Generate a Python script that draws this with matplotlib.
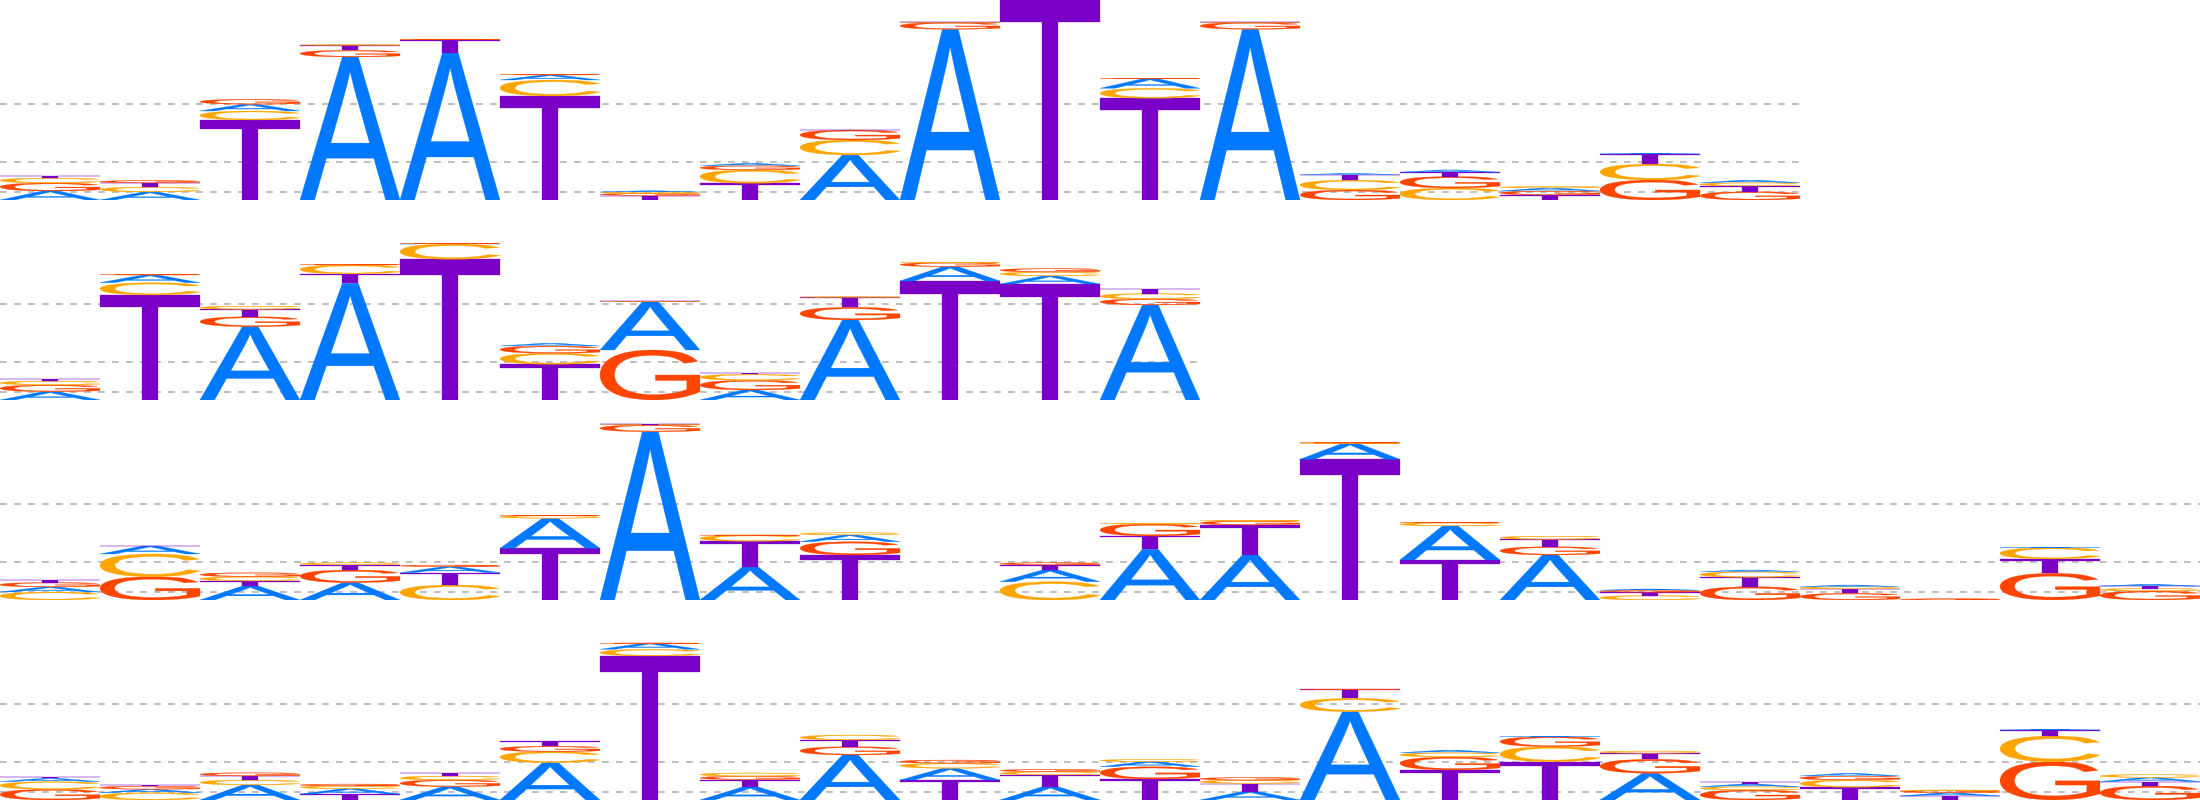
import matplotlib
matplotlib.use("Agg")
import matplotlib.pyplot as plt
from matplotlib.textpath import TextPath
from matplotlib.patches import PathPatch
from matplotlib.font_manager import FontProperties
from matplotlib.transforms import Affine2D

letters = ["A", "C", "G", "T"]
colors = {"A": "#0078ff", "C": "#ffa500", "G": "#ff4500", "T": "#7a00c8"}

# letter heights (bits) per position, one set of lists per logo row
r1_A = [0.09, 0.08, 0.067, 1.43, 1.47, 0.05, 0.012, 0.023, 0.45, 1.707, 0.0, 0.095, 1.707, 0.01, 0.023, 0.03, 0.005, 0.025]
r1_C = [0.05, 0.05, 0.09, 0.005, 0.003, 0.16, 0.015, 0.133, 0.15, 0.003, 0.0, 0.10, 0.003, 0.098, 0.12, 0.015, 0.16, 0.033]
r1_G = [0.08, 0.025, 0.05, 0.067, 0.003, 0.005, 0.02, 0.043, 0.10, 0.067, 0.0, 0.005, 0.067, 0.10, 0.115, 0.04, 0.20, 0.083]
r1_T = [0.025, 0.04, 0.80, 0.05, 0.133, 1.04, 0.045, 0.167, 0.005, 0.003, 2.0, 1.017, 0.003, 0.057, 0.043, 0.05, 0.10, 0.057]

r2_A = [0.083, 0.077, 0.733, 1.167, 0.003, 0.027, 0.483, 0.10, 0.80, 0.143, 0.08, 0.95]
r2_C = [0.04, 0.123, 0.033, 0.09, 0.153, 0.11, 0.003, 0.06, 0.005, 0.005, 0.04, 0.055]
r2_G = [0.067, 0.003, 0.10, 0.003, 0.003, 0.073, 0.50, 0.097, 0.127, 0.04, 0.035, 0.06]
r2_T = [0.02, 1.05, 0.073, 0.093, 1.407, 0.357, 0.003, 0.013, 0.10, 1.19, 1.16, 0.05]

r3_A = [0.05, 0.08, 0.14, 0.173, 0.06, 0.30, 1.683, 0.33, 0.067, 0.0, 0.117, 0.507, 0.45, 0.16, 0.34, 0.45, 0.012, 0.017, 0.017, 0.0, 0.003, 0.018]
r3_C = [0.08, 0.227, 0.043, 0.023, 0.15, 0.027, 0.003, 0.06, 0.023, 0.0, 0.183, 0.003, 0.003, 0.003, 0.033, 0.033, 0.045, 0.057, 0.023, 0.0, 0.113, 0.025]
r3_G = [0.045, 0.233, 0.04, 0.127, 0.017, 0.003, 0.067, 0.003, 0.133, 0.0, 0.023, 0.12, 0.04, 0.003, 0.003, 0.083, 0.02, 0.133, 0.067, 0.012, 0.267, 0.09]
r3_T = [0.025, 0.003, 0.05, 0.05, 0.123, 0.517, 0.003, 0.257, 0.45, 0.0, 0.05, 0.133, 0.30, 1.407, 0.40, 0.073, 0.033, 0.093, 0.043, 0.0, 0.143, 0.024]

r4_A = [0.033, 0.034, 0.15, 0.053, 0.133, 0.373, 0.06, 0.13, 0.45, 0.117, 0.133, 0.05, 0.085, 0.883, 0.025, 0.003, 0.267, 0.027, 0.027, 0.033, 0.003, 0.04]
r4_C = [0.077, 0.073, 0.05, 0.027, 0.04, 0.11, 0.067, 0.033, 0.05, 0.05, 0.033, 0.023, 0.033, 0.133, 0.043, 0.15, 0.023, 0.033, 0.073, 0.007, 0.257, 0.03]
r4_G = [0.107, 0.032, 0.033, 0.02, 0.067, 0.055, 0.003, 0.035, 0.083, 0.033, 0.023, 0.123, 0.027, 0.003, 0.13, 0.10, 0.14, 0.10, 0.04, 0.02, 0.383, 0.14]
r4_T = [0.017, 0.01, 0.04, 0.06, 0.033, 0.05, 1.44, 0.073, 0.067, 0.20, 0.117, 0.21, 0.08, 0.09, 0.30, 0.383, 0.06, 0.023, 0.127, 0.04, 0.06, 0.045]

rows = [
    {"A": r1_A, "C": r1_C, "G": r1_G, "T": r1_T},
    {"A": r2_A, "C": r2_C, "G": r2_G, "T": r2_T},
    {"A": r3_A, "C": r3_C, "G": r3_G, "T": r3_T},
    {"A": r4_A, "C": r4_C, "G": r4_G, "T": r4_T},
]

grid_levels = [0.083, 0.383, 0.96]
n_slots = 22
ymax = 2.0

font = FontProperties(family="Liberation Sans")
glyphs = {ch: TextPath((0, 0), ch, size=1, prop=font) for ch in letters}


def draw_letter(ax, ch, x, y, w, h):
    p = glyphs[ch]
    bb = p.get_extents()
    tr = Affine2D().translate(-bb.x0, -bb.y0).scale(w / bb.width, h / bb.height).translate(x, y)
    ax.add_patch(PathPatch(tr.transform_path(p), facecolor=colors[ch],
                           edgecolor=colors[ch], lw=0.2, zorder=3))


fig = plt.figure(figsize=(22, 8), dpi=100)
nrows = len(rows)
for i, row in enumerate(rows):
    ax = fig.add_axes([0, 1 - (i + 1) / nrows, 1, 1 / nrows])
    ax.set_xlim(0, n_slots)
    ax.set_ylim(0, ymax)
    ax.axis("off")
    n = len(row["A"])
    ax.hlines(grid_levels, 0, n, colors="#c0c0c0", linestyles=(0, (3.4, 3.6)), lw=1.44, zorder=1)
    for j in range(n):
        order = sorted(letters, key=lambda c: -row[c][j])
        y = 0.0
        for c in order:
            h = row[c][j]
            if h > 0:
                draw_letter(ax, c, j, y, 1.0, h)
                y += h

fig.savefig("out.png", dpi=100, facecolor="white")
